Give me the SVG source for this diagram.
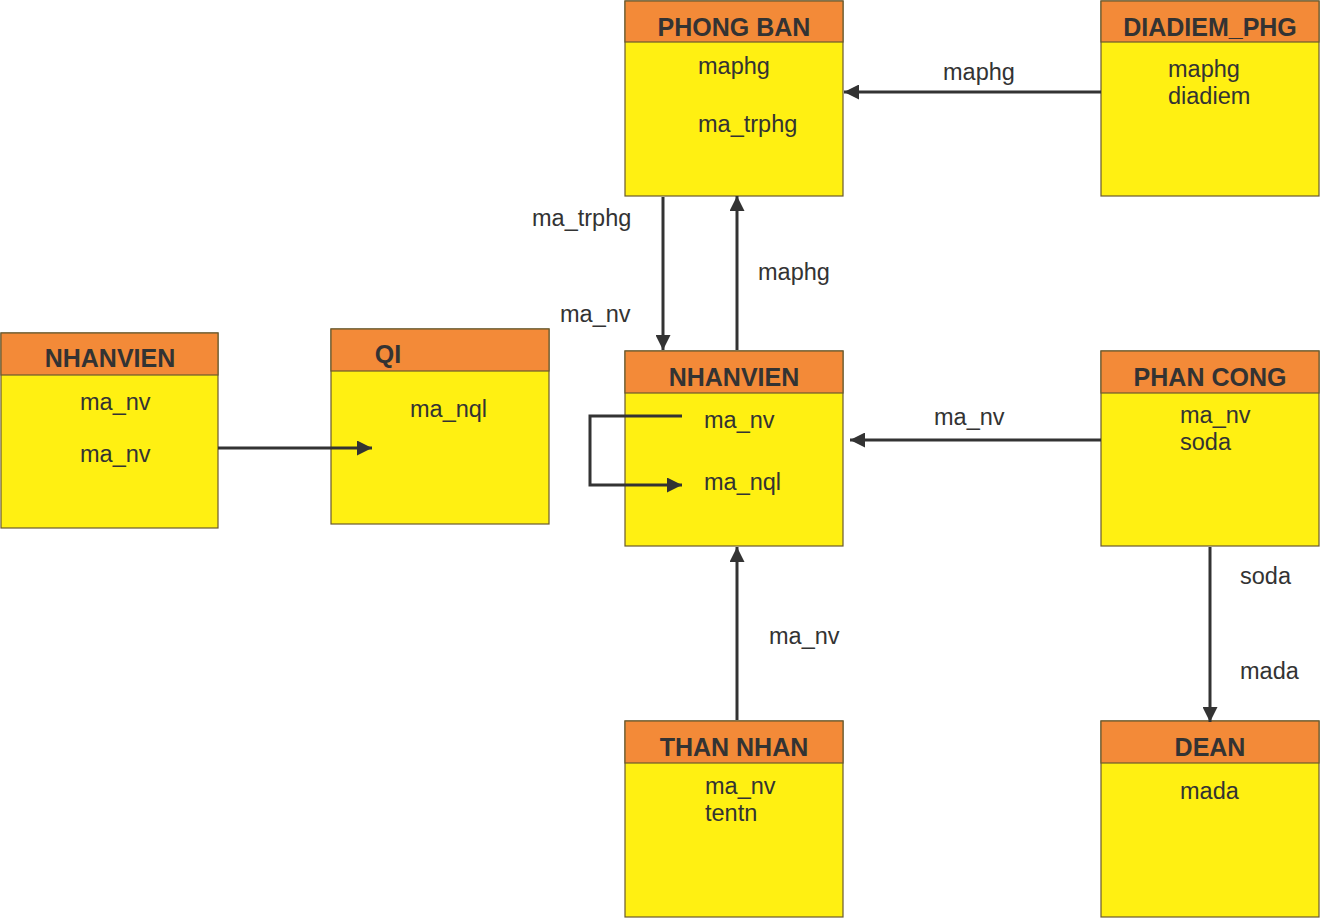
<svg xmlns="http://www.w3.org/2000/svg" width="1320" height="918" viewBox="0 0 1320 918">
<style>
.body{fill:#FFF012;stroke:#6b5a2e;stroke-width:1.2}
.head{fill:#F38A38;stroke:#6b5a2e;stroke-width:1.2}
.t{font-family:"Liberation Sans",Arial,sans-serif;font-size:23.5px;fill:#333}
.h{font-family:"Liberation Sans",Arial,sans-serif;font-size:25px;font-weight:bold;fill:#333;text-anchor:middle}
.c{fill:none;stroke:#333;stroke-width:3}
</style>
<defs>
<marker id="a" markerWidth="5" markerHeight="5" refX="5" refY="2.5" orient="auto" markerUnits="strokeWidth">
<path d="M0,0 L5,2.5 L0,5 Z" fill="#333"/>
</marker>
</defs>
<rect width="1320" height="918" fill="#fff"/>
<g id="phongban">
<rect class="body" x="625" y="1" width="218" height="195"/>
<rect class="head" x="625" y="1" width="218" height="41"/>
<text class="h" x="734" y="36">PHONG BAN</text>
<text class="t" x="698" y="74">maphg</text>
<text class="t" x="698" y="132">ma_trphg</text>
</g>
<g id="diadiem">
<rect class="body" x="1101" y="1" width="218" height="195"/>
<rect class="head" x="1101" y="1" width="218" height="41"/>
<text class="h" x="1210" y="36">DIADIEM_PHG</text>
<text class="t" x="1168" y="77">maphg</text>
<text class="t" x="1168" y="104">diadiem</text>
</g>
<g id="nhanvien-left">
<rect class="body" x="1" y="333" width="217" height="195"/>
<rect class="head" x="1" y="333" width="217" height="42"/>
<text class="h" x="110" y="367">NHANVIEN</text>
<text class="t" x="80" y="410">ma_nv</text>
<text class="t" x="80" y="462">ma_nv</text>
</g>
<g id="qi">
<rect class="body" x="331" y="329" width="218" height="195"/>
<rect class="head" x="331" y="329" width="218" height="42"/>
<text class="h" x="388" y="363">QI</text>
<text class="t" x="410" y="417">ma_nql</text>
</g>
<g id="nhanvien">
<rect class="body" x="625" y="351" width="218" height="195"/>
<rect class="head" x="625" y="351" width="218" height="42"/>
<text class="h" x="734" y="386">NHANVIEN</text>
<text class="t" x="704" y="428">ma_nv</text>
<text class="t" x="704" y="490">ma_nql</text>
</g>
<g id="phancong">
<rect class="body" x="1101" y="351" width="218" height="195"/>
<rect class="head" x="1101" y="351" width="218" height="42"/>
<text class="h" x="1210" y="386">PHAN CONG</text>
<text class="t" x="1180" y="423">ma_nv</text>
<text class="t" x="1180" y="450">soda</text>
</g>
<g id="thannhan">
<rect class="body" x="625" y="721" width="218" height="196"/>
<rect class="head" x="625" y="721" width="218" height="42"/>
<text class="h" x="734" y="756">THAN NHAN</text>
<text class="t" x="705" y="794">ma_nv</text>
<text class="t" x="705" y="821">tentn</text>
</g>
<g id="dean">
<rect class="body" x="1101" y="721" width="218" height="196"/>
<rect class="head" x="1101" y="721" width="218" height="42"/>
<text class="h" x="1210" y="756">DEAN</text>
<text class="t" x="1180" y="799">mada</text>
</g>
<g id="connectors">
<line class="c" x1="1101" y1="92" x2="844" y2="92" marker-end="url(#a)"/>
<line class="c" x1="663" y1="197" x2="663" y2="350" marker-end="url(#a)"/>
<line class="c" x1="737" y1="350" x2="737" y2="196" marker-end="url(#a)"/>
<line class="c" x1="1101" y1="440" x2="850" y2="440" marker-end="url(#a)"/>
<polyline class="c" points="682,416 590,416 590,485 682,485" marker-end="url(#a)"/>
<line class="c" x1="218" y1="448" x2="372" y2="448" marker-end="url(#a)"/>
<line class="c" x1="737" y1="720" x2="737" y2="547" marker-end="url(#a)"/>
<line class="c" x1="1210" y1="547" x2="1210" y2="722" marker-end="url(#a)"/>
<text class="t" x="943" y="80">maphg</text>
<text class="t" x="532" y="226">ma_trphg</text>
<text class="t" x="560" y="322">ma_nv</text>
<text class="t" x="758" y="280">maphg</text>
<text class="t" x="934" y="425">ma_nv</text>
<text class="t" x="769" y="644">ma_nv</text>
<text class="t" x="1240" y="584">soda</text>
<text class="t" x="1240" y="679">mada</text>
</g>
</svg>
